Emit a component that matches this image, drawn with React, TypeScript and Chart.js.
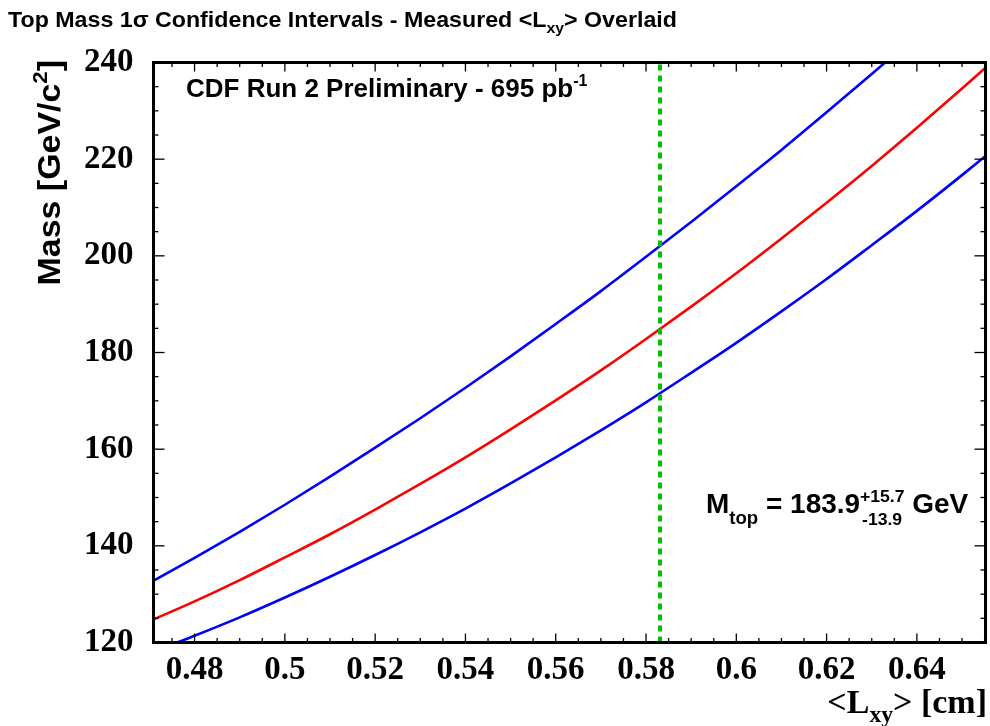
import React, { useEffect, useRef } from "react";
import { Chart, registerables } from "chart.js";

Chart.register(...registerables);

// ---- data ----
const lxyValues = [0.47, 0.48, 0.49, 0.5, 0.51, 0.52, 0.53, 0.54, 0.55, 0.56, 0.57, 0.58, 0.59, 0.6, 0.61, 0.62, 0.63, 0.64, 0.65, 0.66];
const massCentral = [124.4, 128.5, 132.9, 137.6, 142.4, 147.5, 152.8, 158.3, 164.1, 170.1, 176.3, 182.8, 189.5, 196.4, 203.6, 211.0, 218.6, 226.5, 234.6, 242.9];
const massUpper = [132.3, 137.5, 142.9, 148.5, 154.3, 160.3, 166.4, 172.7, 179.2, 185.9, 192.7, 199.8, 207.0, 214.4, 221.9, 229.7, 237.6, 245.7, 254.0, 262.5];
const massLower = [117.8, 121.4, 125.2, 129.3, 133.6, 138.1, 142.8, 147.7, 152.9, 158.3, 163.9, 169.7, 175.8, 182.0, 188.5, 195.2, 202.2, 209.3, 216.7, 224.3];
const measuredLxy = 0.5831;

const xTickValues = [0.48, 0.5, 0.52, 0.54, 0.56, 0.58, 0.6, 0.62, 0.64];
const xTickLabels = ["0.48", "0.5", "0.52", "0.54", "0.56", "0.58", "0.6", "0.62", "0.64"];
const yTickValues = [120, 140, 160, 180, 200, 220, 240];
const yTickLabels = ["120", "140", "160", "180", "200", "220", "240"];

const xMin = 0.4709;
const xMax = 0.6552;
const yMin = 120;
const yMax = 240;
const xMinorStep = 0.005;
const yMinorStep = 5;

const SANS = "'Liberation Sans', Arial, sans-serif";
const SERIF = "'Liberation Serif', 'Times New Roman', serif";

type Part = { t: string; size: number; dy: number; font: string; dx?: number; noAdvance?: boolean };

function drawRun(ctx: CanvasRenderingContext2D, parts: Part[], x: number, y: number, align: "left" | "right" = "left", sx = 1) {
  ctx.textAlign = "left";
  ctx.textBaseline = "alphabetic";
  let total = 0;
  const widths = parts.map((p) => {
    ctx.font = `bold ${p.size}px ${p.font}`;
    const w = ctx.measureText(p.t).width * sx;
    if (!p.noAdvance) total += w;
    return w;
  });
  let cx = align === "left" ? x : x - total;
  parts.forEach((p, i) => {
    ctx.font = `bold ${p.size}px ${p.font}`;
    ctx.save();
    ctx.translate(cx + (p.dx || 0), y + p.dy);
    ctx.scale(sx, 1);
    ctx.fillText(p.t, 0, 0);
    ctx.restore();
    if (!p.noAdvance) cx += widths[i];
  });
  return total;
}

const decorPlugin = {
  id: "decor",
  afterDatasetsDraw(chart: any) {
    const { ctx, chartArea: a, scales } = chart;
    const xs = scales.x;
    const ys = scales.y;
    ctx.save();
    ctx.strokeStyle = "#000";
    ctx.fillStyle = "#000";
    ctx.lineWidth = 1.3;
    const seg = (x1: number, y1: number, x2: number, y2: number) => {
      ctx.beginPath();
      ctx.moveTo(x1, y1);
      ctx.lineTo(x2, y2);
      ctx.stroke();
    };
    // x ticks (bottom and top)
    for (let i = Math.ceil(xMin / xMinorStep); i <= Math.floor(xMax / xMinorStep); i++) {
      const px = xs.getPixelForValue(i * xMinorStep);
      const len = i % 4 === 0 ? 9 : 4.5;
      seg(px, a.bottom, px, a.bottom - len);
      seg(px, a.top, px, a.top + len);
    }
    // y ticks (left and right)
    for (let i = Math.ceil(yMin / yMinorStep); i <= Math.floor(yMax / yMinorStep); i++) {
      const py = ys.getPixelForValue(i * yMinorStep);
      const len = i % 4 === 0 ? 11 : 5;
      seg(a.left, py, a.left + len, py);
      seg(a.right, py, a.right - len, py);
    }
    // frame
    ctx.lineWidth = 3;
    ctx.strokeRect(a.left, a.top, a.right - a.left, a.bottom - a.top);

    // title
    drawRun(ctx, [
      { t: "Top Mass 1\u03c3 Confidence Intervals - Measured <L", size: 22, dy: 0, font: SANS },
      { t: "xy", size: 15, dy: 6, font: SANS },
      { t: "> Overlaid", size: 22, dy: 0, font: SANS },
    ], 8, 27, "left", 1.055);

    // CDF label
    drawRun(ctx, [
      { t: "CDF Run 2 Preliminary - 695 pb", size: 26, dy: 0, font: SANS },
      { t: "-1", size: 16, dy: -11, font: SANS },
    ], 186, 97);

    // M_top label
    drawRun(ctx, [
      { t: "M", size: 27, dy: 0, font: SANS },
      { t: "top", size: 18, dy: 11, font: SANS },
      { t: " = 183.9", size: 27, dy: 0, font: SANS },
      { t: "-13.9", size: 17, dy: 12, font: SANS, dx: 2, noAdvance: true },
      { t: "+15.7", size: 17, dy: -11, font: SANS },
      { t: " GeV", size: 27, dy: 0, font: SANS },
    ], 706, 513, "left", 1.035);

    // x axis title
    drawRun(ctx, [
      { t: "<L", size: 33, dy: 0, font: SERIF },
      { t: "xy", size: 23, dy: 9, font: SERIF },
      { t: "> [cm]", size: 33, dy: 0, font: SERIF },
    ], 987, 713, "right", 1.03);

    // y axis title (rotated, aligned to the top)
    ctx.save();
    ctx.translate(60, 60);
    ctx.rotate(-Math.PI / 2);
    drawRun(ctx, [
      { t: "Mass [GeV/c", size: 32, dy: 0, font: SANS },
      { t: "2", size: 21, dy: -13, font: SANS },
      { t: "]", size: 32, dy: 0, font: SANS },
    ], 0, 0, "right", 1.06);
    ctx.restore();

    ctx.restore();
  },
};

export default function App() {
  const ref = useRef<HTMLCanvasElement | null>(null);
  useEffect(() => {
    document.body.style.margin = "0";
    const canvas = ref.current;
    if (!canvas) return;
    const mk = (ys: number[]) => lxyValues.map((x, i) => ({ x, y: ys[i] }));
    const chart = new Chart(canvas, {
      type: "line",
      data: {
        datasets: [
          {
            data: [{ x: measuredLxy, y: yMin }, { x: measuredLxy, y: yMax }],
            borderColor: "#00c000",
            borderWidth: 4,
            borderDash: [6, 5],
            pointRadius: 0,
            order: 0,
          },
          { data: mk(massUpper), borderColor: "#0000ff", borderWidth: 2.6, pointRadius: 0, cubicInterpolationMode: "monotone", order: 1 },
          { data: mk(massCentral), borderColor: "#ff0000", borderWidth: 2.6, pointRadius: 0, cubicInterpolationMode: "monotone", order: 1 },
          { data: mk(massLower), borderColor: "#0000ff", borderWidth: 2.6, pointRadius: 0, cubicInterpolationMode: "monotone", order: 1 },
        ] as any,
      },
      options: {
        animation: false,
        responsive: false,
        layout: { padding: { top: 62.5, right: 4.5, left: 0, bottom: 0 } },
        plugins: { legend: { display: false }, tooltip: { enabled: false }, title: { display: false } },
        elements: { line: { fill: false } },
        datasets: { line: { clip: 0 } } as any,
        scales: {
          x: {
            type: "linear",
            min: xMin,
            max: xMax,
            grid: { display: false, drawTicks: false },
            border: { display: false },
            afterBuildTicks: (s: any) => {
              s.ticks = xTickValues.map((v) => ({ value: v }));
            },
            afterFit: (s: any) => {
              s.height = 83.5;
            },
            ticks: {
              autoSkip: false,
              maxRotation: 0,
              padding: 8,
              color: "#000",
              font: { family: "'Liberation Serif'", weight: "bold", size: 33 },
              callback: (_v: any, i: number) => xTickLabels[i],
            },
          },
          y: {
            type: "linear",
            min: yMin,
            max: yMax,
            grid: { display: false, drawTicks: false },
            border: { display: false },
            afterBuildTicks: (s: any) => {
              s.ticks = yTickValues.map((v) => ({ value: v }));
            },
            afterFit: (s: any) => {
              s.width = 153.5;
            },
            ticks: {
              autoSkip: false,
              padding: 20,
              color: "#000",
              font: { family: "'Liberation Serif'", weight: "bold", size: 33 },
              callback: (_v: any, i: number) => yTickLabels[i],
            },
          },
        },
      },
      plugins: [decorPlugin],
    } as any);
    return () => chart.destroy();
  }, []);
  return (
    <div style={{ width: 990, height: 726, background: "#fff" }}>
      <canvas ref={ref} width={990} height={726} style={{ display: "block" }} />
    </div>
  );
}
